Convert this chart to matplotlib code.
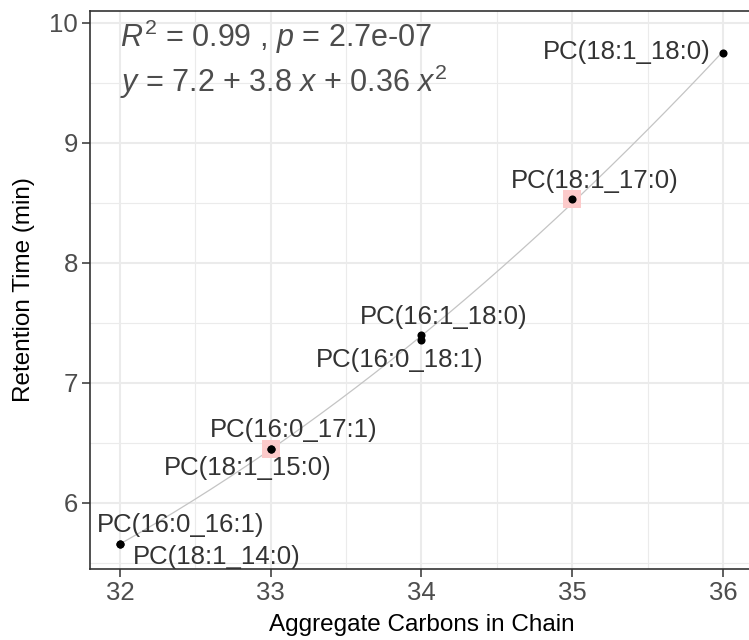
import numpy as np
import matplotlib
matplotlib.use("Agg")
import matplotlib.pyplot as plt

# ---- data ----
carbons = [32, 32, 33, 33, 34, 34, 35, 36]
rt = [5.66, 5.66, 6.45, 6.45, 7.40, 7.36, 8.53, 9.75]
names = ["PC(16:0_16:1)", "PC(18:1_14:0)", "PC(16:0_17:1)", "PC(18:1_15:0)",
         "PC(16:1_18:0)", "PC(16:0_18:1)", "PC(18:1_17:0)", "PC(18:1_18:0)"]
highlight_x = [33, 35]
highlight_y = [6.45, 8.53]
# label anchor positions (data units)
label_x = [32.40, 32.64, 33.15, 32.85, 34.15, 33.855, 35.15, 35.36]
label_y = [5.82, 5.55, 6.61, 6.29, 7.55, 7.19, 8.68, 9.76]
eq_line1 = r"$R^2$ = 0.99 , $p$ = 2.7e-07"
eq_line2 = r"$y$ = 7.2 + 3.8 $x$ + 0.36 $x^2$"
x_ticks = [32, 33, 34, 35, 36]
y_ticks = [6, 7, 8, 9, 10]

plt.rcParams['font.family'] = ['Liberation Sans', 'DejaVu Sans']
plt.rcParams['mathtext.fontset'] = 'custom'
plt.rcParams['mathtext.rm'] = 'Liberation Sans'
plt.rcParams['mathtext.it'] = 'Liberation Sans:italic'

W, H = 749, 640
fig = plt.figure(figsize=(W / 100, H / 100), dpi=100)
left, right, top, bottom = 90, 753, 11, 569
ax = fig.add_axes([left / W, 1 - bottom / H, (right - left) / W, (bottom - top) / H])

ax.set_xlim(31.8, 36.2)
ax.set_ylim(5.45, 10.1)

# grid
for v in np.arange(31.5, 36.6, 0.5):
    if v in x_ticks:
        ax.axvline(v, color='#EBEBEB', lw=1.5, zorder=0)
    else:
        ax.axvline(v, color='#EBEBEB', lw=0.8, zorder=0)
for v in np.arange(5.5, 10.1, 0.5):
    if v in y_ticks:
        ax.axhline(v, color='#EBEBEB', lw=1.5, zorder=0)
    else:
        ax.axhline(v, color='#EBEBEB', lw=0.8, zorder=0)

# quadratic fit line
coef = np.polyfit(carbons, rt, 2)
xs = np.linspace(min(carbons), max(carbons), 200)
ax.plot(xs, np.polyval(coef, xs), color='#C4C4C4', lw=0.9, zorder=1)

ax.scatter(highlight_x, highlight_y, marker='s', s=150, color='#FCCACA', zorder=2, linewidths=0)
ax.scatter(carbons, rt, s=34, color='black', zorder=3, linewidths=0)

for n, lx, ly in zip(names, label_x, label_y):
    ax.text(lx, ly, n, ha='center', va='center', fontsize=18.5, color='#333333', zorder=4)

ax.text(32.0, 9.80, eq_line1, ha='left', va='baseline', fontsize=22, color='#4D4D4D')
ax.text(32.0, 9.425, eq_line2, ha='left', va='baseline', fontsize=22, color='#4D4D4D')

ax.set_xticks(x_ticks)
ax.set_yticks(y_ticks)
ax.tick_params(axis='both', length=5.5, width=1.1, color='#333333', labelsize=18.5,
               labelcolor='#4D4D4D', pad=3)
for s in ax.spines.values():
    s.set_color('#333333')
    s.set_linewidth(1.2)

fig.text((left + right) / 2 / W, 1 - 625 / H, "Aggregate Carbons in Chain",
         ha='center', va='center', fontsize=17.5, color='black')
fig.text(24 / W, 1 - ((top + bottom) / 2) / H, "Retention Time (min)",
         ha='center', va='center', rotation=90, fontsize=17.5, color='black')

fig.savefig("out.png", dpi=100)
